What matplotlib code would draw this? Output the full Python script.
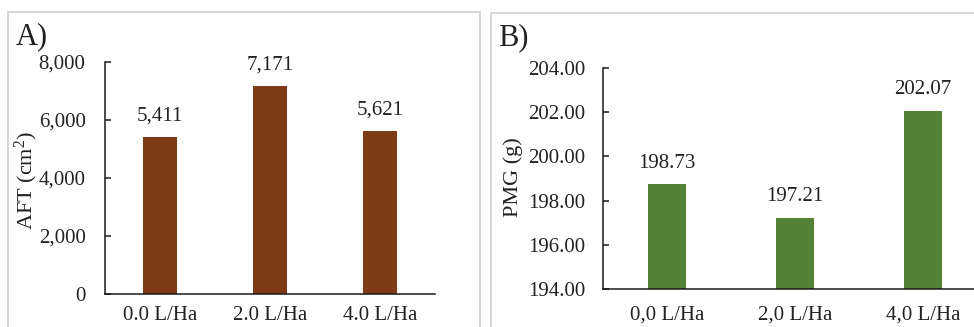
import matplotlib
matplotlib.use("Agg")
import matplotlib.pyplot as plt
from matplotlib.patches import Rectangle
from matplotlib.ticker import FuncFormatter

plt.rcParams['font.family'] = ['Liberation Serif', 'DejaVu Serif']
plt.rcParams['mathtext.fontset'] = 'custom'
plt.rcParams['mathtext.rm'] = 'Liberation Serif'
plt.rcParams['mathtext.it'] = 'Liberation Serif:italic'

# Data
cats_a = ["0.0 L/Ha", "2.0 L/Ha", "4.0 L/Ha"]
aft_values = [5411, 7171, 5621]
aft_labels = ["5,411", "7,171", "5,621"]

cats_b = ["0,0 L/Ha", "2,0 L/Ha", "4,0 L/Ha"]
pmg_values = [198.73, 197.21, 202.07]
pmg_labels = ["198.73", "197.21", "202.07"]

W, H = 974, 327
fig = plt.figure(figsize=(W / 100, H / 100), dpi=100)

def fx(px):
    return px / W

def fy(py):
    return 1 - py / H

TXT = '#222222'
FS = 15

# panel frames
for (x0, y0, x1, y1) in [(8, 12, 480, 340), (491, 13, 990, 340)]:
    fig.patches.append(Rectangle((fx(x0), fy(y1)), fx(x1 - x0), (y1 - y0) / H,
                                 transform=fig.transFigure, fill=False,
                                 edgecolor='#d0d0d0', linewidth=1.2, zorder=0))

def make_axes(l, r, b, t):
    return fig.add_axes([fx(l), fy(b), fx(r - l), (b - t) / H])

# Panel A
axA = make_axes(105, 435, 294, 62)
xa = range(len(cats_a))
axA.bar(xa, aft_values, width=0.31, color='#7D3A15')
axA.set_xlim(-0.5, 2.5)
axA.set_ylim(0, 8000)
axA.set_yticks([0, 2000, 4000, 6000, 8000])
axA.yaxis.set_major_formatter(FuncFormatter(lambda v, p: f"{int(v):,}"))
axA.set_xticks(list(xa))
axA.set_xticklabels(cats_a)
for i, (v, lab) in enumerate(zip(aft_values, aft_labels)):
    axA.annotate(lab, (i, v), xytext=(0, 12), textcoords='offset points',
                 ha='center', va='baseline', fontsize=FS, color=TXT)
axA.set_ylabel("AFT (cm$^{2}$)", fontsize=FS + 1, color=TXT)
axA.yaxis.set_label_coords(-0.197, 0.49)

# Panel B
axB = make_axes(603, 987, 289, 68)
xb = range(len(cats_b))
axB.bar(xb, pmg_values, width=0.30, color='#538135')
axB.set_xlim(-0.5, 2.5)
axB.set_ylim(194, 204)
axB.set_yticks([194, 196, 198, 200, 202, 204])
axB.yaxis.set_major_formatter(FuncFormatter(lambda v, p: f"{v:.2f}"))
axB.set_xticks(list(xb))
axB.set_xticklabels(cats_b)
for i, (v, lab) in enumerate(zip(pmg_values, pmg_labels)):
    axB.annotate(lab, (i, v), xytext=(0, 12), textcoords='offset points',
                 ha='center', va='baseline', fontsize=FS, color=TXT)
axB.set_ylabel("PMG (g)", fontsize=FS + 1, color=TXT)
axB.yaxis.set_label_coords(-0.208, 0.507)

for ax, ypad, xpad in ((axA, 14, 9), (axB, 12.5, 12)):
    for s in ('top', 'right'):
        ax.spines[s].set_visible(False)
    ax.spines['left'].set_color('#1a1a1a')
    ax.spines['bottom'].set_color('#1a1a1a')
    ax.spines['left'].set_linewidth(1.1)
    ax.spines['bottom'].set_linewidth(1.1)
    ax.tick_params(axis='y', direction='in', length=4.5, width=1.1,
                   labelsize=FS, labelcolor=TXT, pad=ypad, color='#1a1a1a')
    ax.tick_params(axis='x', length=0, labelsize=FS, labelcolor=TXT, pad=xpad)
    ax.set_facecolor('none')

fig.text(fx(16), fy(37), "A)", fontsize=22, color=TXT, ha='left', va='center')
fig.text(fx(498), fy(38), "B)", fontsize=22, color=TXT, ha='left', va='center')

fig.savefig("out.png", dpi=100, facecolor='white')
